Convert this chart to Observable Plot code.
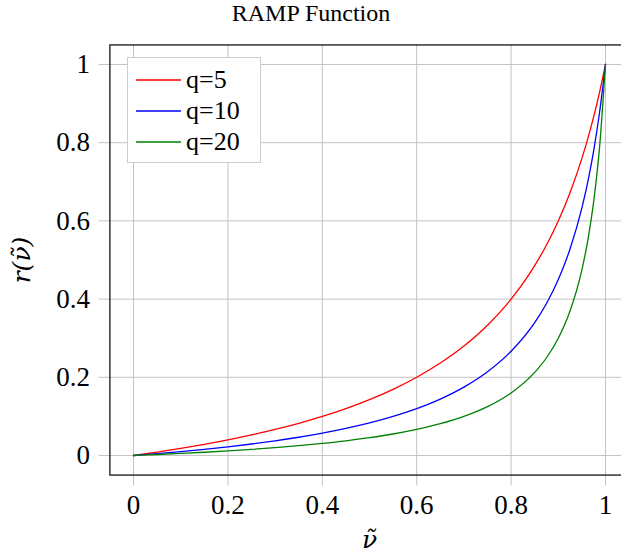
<!DOCTYPE html>
<html>
<head>
<meta charset="utf-8">
<script src="https://cdn.jsdelivr.net/npm/d3@7"></script>
<script src="https://cdn.jsdelivr.net/npm/@observablehq/plot@0.6"></script>
<style>
  html, body { margin: 0; padding: 0; background: #fff; overflow: hidden; }
  #wrap { position: relative; width: 621px; height: 554px; overflow: hidden; font-family: 'Liberation Serif', serif; }
  #chart svg { max-width: none !important; }
  #chart svg text { font-family: 'Liberation Serif', serif; }
  #chart svg text.lbl { font-family: 'DejaVu Serif', serif; }
  #title { position: absolute; left: 0; width: 622px; top: 0; text-align: center; font-size: 24px; line-height: 26px; color: #000; font-family: 'Liberation Serif', serif; }
  #legend { position: absolute; left: 127px; top: 57px; width: 132px; height: 104px; border: 1px solid #cccccc; background: #fff; font-size: 26px; font-family: 'Liberation Serif', serif; }
  .row { position: absolute; left: 0; width: 130px; height: 30px; }
  .sw { position: absolute; left: 8px; top: 0; }
  .lab { position: absolute; left: 58px; top: 0; line-height: 30px; white-space: nowrap; color: #000; }
</style>
</head>
<body>
<div id="wrap">
  <div id="chart"></div>
  <div id="title">RAMP Function</div>
  <div id="legend"></div>
</div>
<script>
const nu = [0,0.05,0.1,0.15,0.2,0.25,0.3,0.35,0.4,0.45,0.5,0.55,0.6,0.65,0.7,0.75,0.8,0.85,0.875,0.9,0.925,0.95,0.9625,0.975,0.9875,1];
const q5 = [0,0.0087,0.0182,0.0286,0.04,0.0526,0.0667,0.0824,0.1,0.12,0.1429,0.1692,0.2,0.2364,0.28,0.3333,0.4,0.4857,0.5385,0.6,0.6727,0.76,0.8105,0.8667,0.9294,1];
const q10 = [0,0.0048,0.01,0.0158,0.0222,0.0294,0.0375,0.0467,0.0571,0.0692,0.0833,0.1,0.12,0.1444,0.175,0.2143,0.2667,0.34,0.3889,0.45,0.5286,0.6333,0.7,0.78,0.8778,1];
const q20 = [0,0.0025,0.0053,0.0083,0.0118,0.0156,0.02,0.025,0.0308,0.0375,0.0455,0.055,0.0667,0.0813,0.1,0.125,0.16,0.2125,0.25,0.3,0.37,0.475,0.55,0.65,0.79,1];
const seriesNames = ["q=5", "q=10", "q=20"];
const seriesColors = ["#ff0000", "#0000ff", "#008000"];
const xTicks = [0, 0.2, 0.4, 0.6, 0.8, 1];
const yTicks = [0, 0.2, 0.4, 0.6, 0.8, 1];
const xLabel = "ν\u0303";
const yLabel = "r(ν\u0303)";

const seriesValues = [q5, q10, q20];
const rows = [];
seriesNames.forEach((name, i) => {
  nu.forEach((x, j) => rows.push({series: name, x, y: seriesValues[i][j]}));
});

const gridColor = "#c4c4c4";
const chart = Plot.plot({
  width: 630,
  height: 554,
  marginLeft: 109.4,
  marginRight: 1.4,
  marginTop: 44.45,
  marginBottom: 79.45,
  style: {fontSize: "27px", background: "#fff", color: "#000", maxWidth: "none"},
  x: {domain: [-0.05, 1.05]},
  y: {domain: [-0.05, 1.05]},
  color: {domain: seriesNames, range: seriesColors},
  marks: [
    Plot.gridX(xTicks, {stroke: gridColor, strokeOpacity: 1, strokeWidth: 1}),
    Plot.gridY(yTicks, {stroke: gridColor, strokeOpacity: 1, strokeWidth: 1}),
    Plot.axisX(xTicks, {tickSize: 11, tickPadding: 9, stroke: gridColor, strokeOpacity: 1, fontSize: 27, label: null, tickFormat: d => String(d)}),
    Plot.axisY(yTicks, {tickSize: 11, tickPadding: 9, stroke: gridColor, strokeOpacity: 1, fontSize: 27, label: null, tickFormat: d => String(d)}),
    Plot.line(rows, {x: "x", y: "y", z: "series", stroke: "series", strokeWidth: 1.3, curve: "monotone-x"}),
    Plot.frame({stroke: "#000", strokeWidth: 1.2}),
    Plot.text([yLabel], {frameAnchor: "left", dx: -88, rotate: -90, textAnchor: "middle", lineAnchor: "middle", fontSize: 25, fontStyle: "italic", text: d => d}),
    Plot.text([xLabel], {frameAnchor: "bottom", dy: 73, textAnchor: "middle", lineAnchor: "bottom", fontSize: 25, fontStyle: "italic", text: d => d})
  ]
});
chart.querySelectorAll("text").forEach(t => {
  if (t.closest("[aria-label='text']")) t.setAttribute("class", "lbl");
});
document.getElementById("chart").appendChild(chart);

const NS = "http://www.w3.org/2000/svg";
const legend = document.getElementById("legend");
seriesNames.forEach((name, i) => {
  const r = document.createElement("div");
  r.className = "row";
  r.style.top = (7 + i * 31) + "px";
  const sw = document.createElementNS(NS, "svg");
  sw.setAttribute("class", "sw");
  sw.setAttribute("width", "46");
  sw.setAttribute("height", "30");
  const ln = document.createElementNS(NS, "line");
  ln.setAttribute("x1", "0"); ln.setAttribute("x2", "45");
  ln.setAttribute("y1", "15"); ln.setAttribute("y2", "15");
  ln.setAttribute("stroke", seriesColors[i]);
  ln.setAttribute("stroke-width", "1.3");
  sw.appendChild(ln);
  const lab = document.createElement("div");
  lab.className = "lab";
  lab.textContent = name;
  r.appendChild(sw);
  r.appendChild(lab);
  legend.appendChild(r);
});
</script>
</body>
</html>
